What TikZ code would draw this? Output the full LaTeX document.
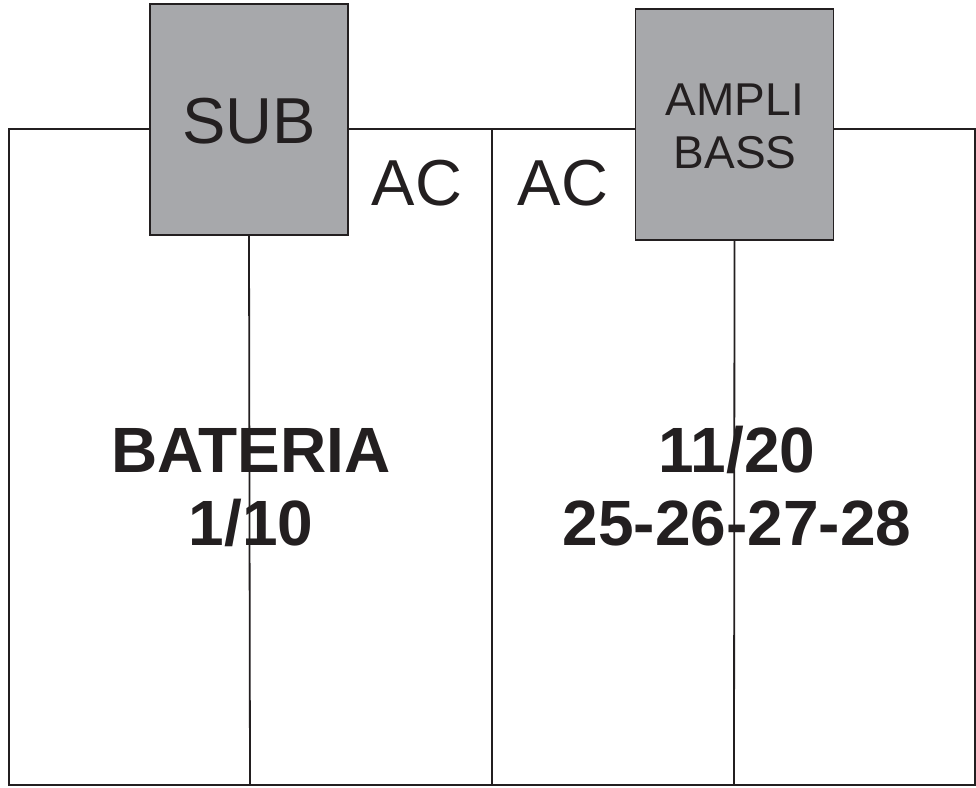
\documentclass[tikz,border=0pt]{standalone}
\usepackage{fontspec}
\setmainfont{Liberation Sans}
\definecolor{boxgray}{HTML}{A7A8AB}
\definecolor{ink}{HTML}{231F20}
\begin{document}
\begin{tikzpicture}[x=1pt,y=-1pt,
  wire/.style={draw=ink,line width=1.8pt},
  unit/.style={draw=ink,line width=1.5pt,fill=boxgray,rectangle,inner sep=0pt},
  lbl/.style={text=ink,inner sep=0pt,anchor=base,font=\fontsize{65}{70}\selectfont},
  small/.style={text=ink,inner sep=0pt,anchor=base,font=\fontsize{46}{53}\selectfont},
  big/.style={text=ink,inner sep=0pt,anchor=base,font=\bfseries\fontsize{64}{72}\selectfont}]
\useasboundingbox (0,0) rectangle (976,787);
% outer frame and partitions
\coordinate (tl) at (9,129);
\coordinate (br) at (975,785);
\draw[wire] (tl) rectangle (br);
\coordinate (m1) at (492,129);
\coordinate (m1b) at (492,785);
\draw[wire] (m1) -- (m1b);
\coordinate (s1b) at (250,785);
\coordinate (s2b) at (734,785);
% units
\node[unit,minimum width=198pt,minimum height=231pt] (sub) at (249,119.5) {};
\node[unit,minimum width=198pt,minimum height=231pt] (amp) at (734.5,124.5) {};
\draw[wire] (sub.south) -- (s1b);
\draw[wire] (amp.south) -- (s2b);
% labels
\node[lbl] (subt) at (249,143) {SUB};
\node[small] (ampt) at (735,115) {AMPLI};
\node[small] (basst) at (735,168) {BASS};
\node[lbl] (ac1) at (417,205) {AC};
\node[lbl] (ac2) at (563,205) {AC};
\node[big] (bat) at (251,472) {BATERIA};
\node[big] (b1) at (251,545) {1/10};
\node[big] (r1) at (737,472) {11/20};
\node[big] (r2) at (737,545) {25-26-27-28};
\end{tikzpicture}
\end{document}
